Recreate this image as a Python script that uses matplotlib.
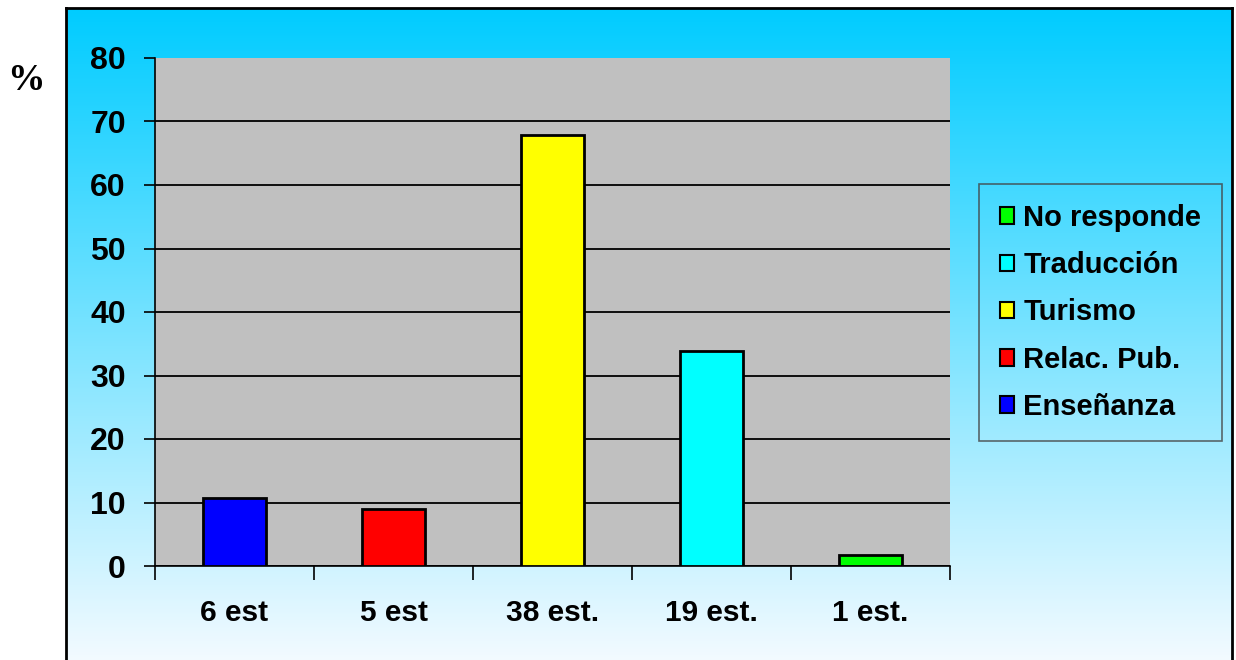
import matplotlib
matplotlib.use("Agg")
import matplotlib.pyplot as plt
import matplotlib.patches as mpatches
import numpy as np

# data
categories = ["6 est", "5 est", "38 est.", "19 est.", "1 est."]
series = ["Enseñanza", "Relac. Pub.", "Turismo", "Traducción", "No responde"]
values = [10.7, 8.9, 67.9, 33.9, 1.8]
colors = ["#0000ff", "#ff0000", "#ffff00", "#00ffff", "#00ff00"]
yticks = [0, 10, 20, 30, 40, 50, 60, 70, 80]

W, H = 1236, 660
fig = plt.figure(figsize=(W / 100, H / 100), dpi=100)
fig.patch.set_facecolor("white")

# gradient chart area with black frame
bg = fig.add_axes([66 / W, -0.02, (1232 - 66) / W, 1.02 - 8 / H], zorder=0)
top = np.array([0.0, 0.80, 1.0])
bot = np.array([0.97, 0.985, 1.0])
t = np.linspace(0, 1, 256)[:, None]
grad = (top[None, :] * (1 - t) + bot[None, :] * t)[:, None, :]
bg.imshow(grad, aspect="auto", extent=[0, 1, 0, 1], origin="upper")
bg.set_xticks([])
bg.set_yticks([])
for s in bg.spines.values():
    s.set_linewidth(2)
    s.set_color("black")

ax = fig.add_axes([155 / W, 1 - 566 / H, (950 - 155) / W, (566 - 58) / H], zorder=2)
ax.set_facecolor("#c0c0c0")
x = np.arange(len(categories))
bars = ax.bar(x, values, width=0.4, color=colors, edgecolor="black", linewidth=2, zorder=3)

ax.set_xlim(-0.5, len(categories) - 0.5)
ax.set_ylim(0, 80)
ax.set_yticks(yticks)
ax.set_yticklabels([str(v) for v in yticks], fontsize=23, fontweight="bold",
                   family="Liberation Sans")
ax.tick_params(axis="y", length=8, width=1.2, pad=13)
ax.yaxis.grid(True, color="black", linewidth=1.3, zorder=1)
ax.set_axisbelow(True)
ax.yaxis.get_gridlines()[-1].set_visible(False)

# ticks at category boundaries, labels at centres
ax.set_xticks(np.arange(-0.5, len(categories), 1.0))
ax.set_xticklabels([])
ax.tick_params(axis="x", length=10, width=1.2)
ax.set_xticks(x, minor=True)
ax.set_xticklabels(categories, minor=True, fontsize=21.5, fontweight="bold",
                   family="Liberation Sans")
ax.tick_params(axis="x", which="minor", length=0, pad=24)

ax.spines["top"].set_visible(False)
ax.spines["right"].set_visible(False)
ax.spines["left"].set_linewidth(1.2)
ax.spines["bottom"].set_linewidth(1.2)

fig.text(26 / W, 1 - 80 / H, "%", fontsize=27, fontweight="bold",
         family="Liberation Serif", ha="center", va="center")

handles = [mpatches.Patch(facecolor=c, edgecolor="black", linewidth=1.5) for c in colors]
leg = fig.legend(handles[::-1], series[::-1], loc="center",
                 bbox_to_anchor=(1100.5 / W, 1 - 312.5 / H),
                 prop={"family": "Liberation Sans", "weight": "bold", "size": 21},
                 handlelength=0.5, handleheight=0.5, handletextpad=0.3,
                 labelspacing=0.66, borderpad=0.7, borderaxespad=0, fancybox=False)
leg.get_frame().set_facecolor("none")
leg.get_frame().set_edgecolor("#444444")
leg.get_frame().set_linewidth(1.2)
leg.set_zorder(5)

fig.savefig("out.png", dpi=100)
